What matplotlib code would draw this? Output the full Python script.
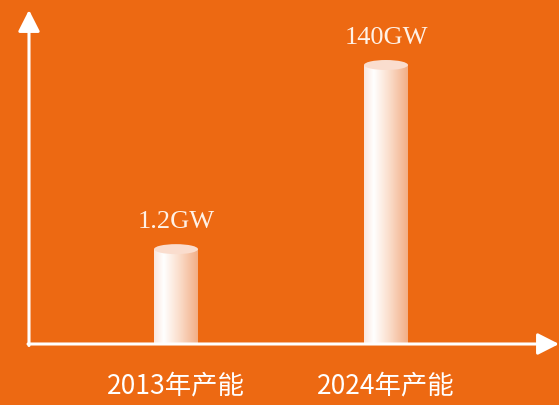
import matplotlib
matplotlib.use('Agg')
import matplotlib.pyplot as plt
import numpy as np
from matplotlib.colors import LinearSegmentedColormap
from matplotlib.patches import Ellipse

# data
categories = ['2013年产能', '2024年产能']
values = ['1.2GW', '140GW']
# drawn bar heights (decorative scale, as in the picture)
bar_heights = [34, 100]

bg = '#ED6912'
W, H = 559, 406

fig = plt.figure(figsize=(W / 100, H / 100), dpi=100, facecolor=bg)
ax = fig.add_axes([0, 0, 1, 1])
ax.set_facecolor(bg)
ax.axis('off')

# pixel layout -> data limits
x0_px, step_px = 176, 210
base_px = 61
unit_px = 2.79
ax.set_xlim(-x0_px / step_px, (W - x0_px) / step_px)
ax.set_ylim(-base_px / unit_px, (H - base_px) / unit_px)

x = np.arange(len(categories))
width = 44 / step_px
cap_h = 10 / unit_px

cmap = LinearSegmentedColormap.from_list(
    'cyl', [(0, '#FBE6DC'), (0.22, '#FFFFFF'), (0.55, '#FBE0CF'), (1, '#F2AE86')])
grad = np.linspace(0, 1, 256).reshape(1, -1)

bars = ax.bar(x, bar_heights, width=width, color='none', edgecolor='none')
for b, h in zip(bars, bar_heights):
    xl = b.get_x()
    im = ax.imshow(grad, cmap=cmap, aspect='auto', extent=(xl, xl + width, 0, h),
                   zorder=2)
    im.set_clip_path(b)
    ax.add_patch(Ellipse((xl + width / 2, h), width, cap_h, facecolor='#FADDCE',
                         edgecolor='none', zorder=3))

for xi, h, v in zip(x, bar_heights, values):
    ax.text(xi, h + 28 / unit_px, v, ha='center', va='center', fontsize=19,
            family='Liberation Serif', color='#FFF1E6')

for xi, c in zip(x, categories):
    ax.text(xi, -41 / unit_px, c, ha='center', va='center', fontsize=19,
            family=['Noto Sans CJK SC', 'DejaVu Sans'], color='white')

# axes with arrows
arrow = dict(arrowstyle='-|>,head_length=0.65,head_width=0.33', color='white',
             lw=2.2, shrinkA=0, shrinkB=0, mutation_scale=20)
ax.annotate('', xy=(29, H - 11), xytext=(29, base_px - 1.5),
            xycoords='figure pixels', textcoords='figure pixels', arrowprops=arrow)
ax.annotate('', xy=(W, base_px), xytext=(28, base_px),
            xycoords='figure pixels', textcoords='figure pixels', arrowprops=arrow)

fig.savefig('out.png', dpi=100, facecolor=bg)
